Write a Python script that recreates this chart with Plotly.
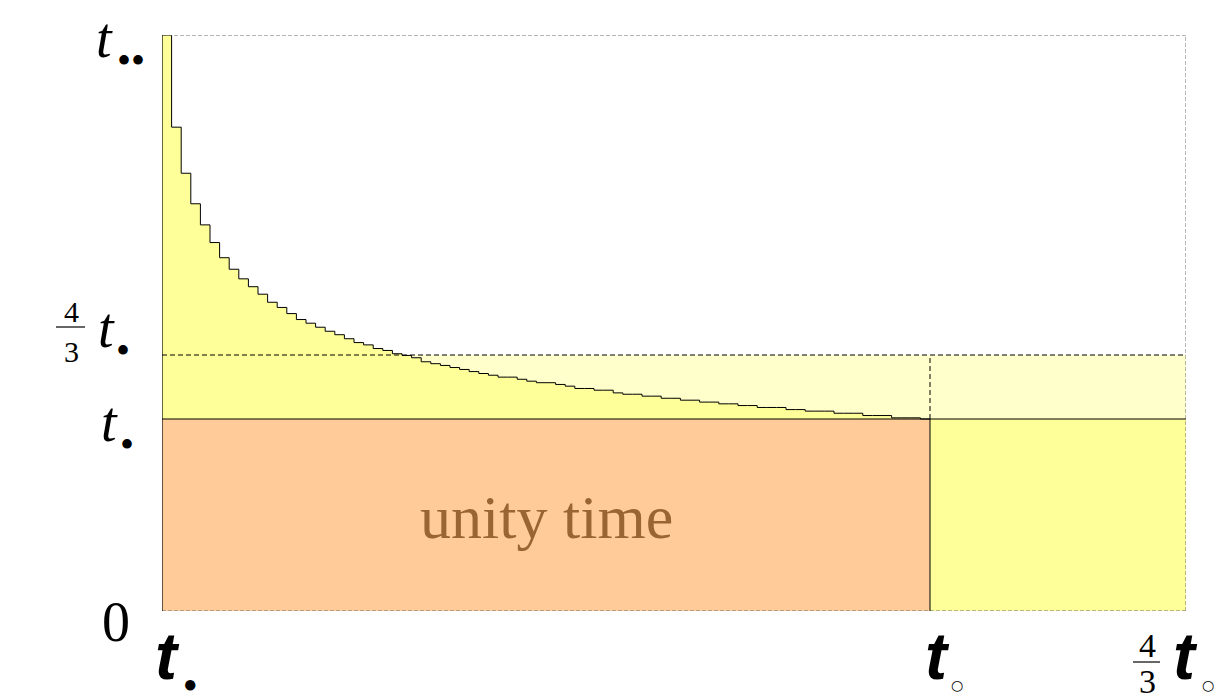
import plotly.graph_objects as go

# ---- values (in units of t_dot for y, t_o for x) ----
T_DOT = 1.0          # t•
T_DD = 3.0           # t••
FOUR_THIRDS = 4.0 / 3.0
T_O = 1.0            # t∘
N_STEPS = 80

# step heights (one value per step, left to right)
step_values = [
    3.000, 2.520, 2.280, 2.121, 2.011, 1.919, 1.840, 1.780, 1.730, 1.689,
    1.650, 1.608, 1.581, 1.549, 1.518, 1.499, 1.478, 1.457, 1.439, 1.418,
    1.398, 1.386, 1.367, 1.357, 1.340, 1.331, 1.319, 1.298, 1.288, 1.279,
    1.268, 1.258, 1.247, 1.237, 1.228, 1.218, 1.218, 1.207, 1.197, 1.189,
    1.189, 1.180, 1.171, 1.159, 1.159, 1.150, 1.150, 1.136, 1.129, 1.129,
    1.119, 1.119, 1.108, 1.108, 1.098, 1.098, 1.088, 1.088, 1.079, 1.079,
    1.070, 1.070, 1.060, 1.060, 1.060, 1.049, 1.049, 1.041, 1.041, 1.041,
    1.030, 1.030, 1.030, 1.018, 1.018, 1.018, 1.006, 1.006, 1.006, 1.000,
]
step_edges = [k * T_O / N_STEPS for k in range(N_STEPS + 1)]

X_MAX = FOUR_THIRDS * T_O
Y_MAX = T_DD

ORANGE = "#FFCC99"
YELLOW = "#FFFF99"
PALE = "#FFFFCC"
TEXT_BROWN = "#996633"
SERIF = "Liberation Serif"
SANS = "Liberation Sans"

fig = go.Figure()

# baseline at t• for the fill
fig.add_trace(go.Scatter(x=[0, T_O], y=[T_DOT, T_DOT], mode="lines",
                         line=dict(width=0, color="rgba(0,0,0,0)"),
                         hoverinfo="skip", showlegend=False))
fig.add_trace(go.Scatter(x=step_edges, y=step_values + [step_values[-1]],
                         mode="lines", line=dict(shape="hv", color="black", width=1),
                         fill="tonexty", fillcolor=YELLOW,
                         hoverinfo="skip", showlegend=False))

shapes = []
# pale band between t• and 4/3 t•
shapes.append(dict(type="rect", xref="x", yref="y", x0=0, x1=X_MAX,
                   y0=T_DOT, y1=FOUR_THIRDS * T_DOT, fillcolor=PALE,
                   line=dict(width=0), layer="below"))
# unity time block
shapes.append(dict(type="rect", xref="x", yref="y", x0=0, x1=T_O,
                   y0=0, y1=T_DOT, fillcolor=ORANGE, line=dict(width=0), layer="below"))
# right yellow block
shapes.append(dict(type="rect", xref="x", yref="y", x0=T_O, x1=X_MAX,
                   y0=0, y1=T_DOT, fillcolor=YELLOW, line=dict(width=0), layer="below"))

# frame: top, right, bottom dashed grey; left solid black
GREY_DASH = dict(color="#6f6f6f", width=1, dash="4px,2px")
shapes.append(dict(type="line", xref="x", yref="y", x0=0, x1=X_MAX, y0=Y_MAX, y1=Y_MAX, line=GREY_DASH))
shapes.append(dict(type="line", xref="x", yref="y", x0=X_MAX, x1=X_MAX, y0=0, y1=Y_MAX, line=GREY_DASH))
shapes.append(dict(type="line", xref="x", yref="y", x0=0, x1=X_MAX, y0=0, y1=0, line=GREY_DASH))
shapes.append(dict(type="line", xref="x", yref="y", x0=0, x1=0, y0=0, y1=Y_MAX,
                   line=dict(color="black", width=1.2)))
# t• line
shapes.append(dict(type="line", xref="x", yref="y", x0=0, x1=X_MAX, y0=T_DOT, y1=T_DOT,
                   line=dict(color="black", width=1)))
# 4/3 t• dashed line
shapes.append(dict(type="line", xref="x", yref="y", x0=0, x1=X_MAX,
                   y0=FOUR_THIRDS * T_DOT, y1=FOUR_THIRDS * T_DOT,
                   line=dict(color="black", width=1, dash="5px,3px")))
# vertical at t∘
shapes.append(dict(type="line", xref="x", yref="y", x0=T_O, x1=T_O, y0=0, y1=T_DOT,
                   line=dict(color="black", width=1)))
shapes.append(dict(type="line", xref="x", yref="y", x0=T_O, x1=T_O,
                   y0=T_DOT, y1=FOUR_THIRDS * T_DOT,
                   line=dict(color="black", width=1, dash="5px,3px")))

# page body has an 8px margin; plot area kept where the reference shows it
L, R, T, B = 154, 37, 27, 97
W, H = 1215, 700
PW, PH = W - L - R, H - T - B


def xp(v):
    return v / X_MAX


def yp(v):
    return v / Y_MAX


annotations = []


def ann(text, xv, yv, dx, dy, size, family=SERIF, color="black"):
    annotations.append(dict(text=text, xref="paper", yref="paper", x=xp(xv), y=yp(yv),
                            xshift=dx, yshift=dy, xanchor="center", yanchor="middle",
                            showarrow=False, font=dict(size=size, family=family, color=color)))


def bar(xv, yv, dx0, dx1, dy):
    shapes.append(dict(type="line", xref="paper", yref="paper",
                       x0=xp(xv) + dx0 / PW, x1=xp(xv) + dx1 / PW,
                       y0=yp(yv) + dy / PH, y1=yp(yv) + dy / PH,
                       line=dict(color="black", width=1.2)))


# y tick labels
ann("<i>t</i>", 0, T_DD, -58, -3, 56)
ann("••", 0, T_DD, -31, -25, 40)
ann("4", 0, FOUR_THIRDS, -91, 44, 30)
ann("3", 0, FOUR_THIRDS, -91, 4, 30)
bar(0, FOUR_THIRDS, -106, -77, 28)
ann("<i>t</i>", 0, FOUR_THIRDS, -56, 27, 56)
ann("•", 0, FOUR_THIRDS, -39, 5, 40)
ann("<i>t</i>", 0, T_DOT, -53, -3, 56)
ann("•", 0, T_DOT, -35, -25, 40)
ann("0", 0, 0, -46, -11, 56)

# x tick labels
ann("<b><i>t</i></b>", 0, 0, 5, -45, 66, SANS)
ann("●", 0, 0, 28, -73, 24)
ann("<b><i>t</i></b>", T_O, 0, 7, -45, 66, SANS)
ann("○", T_O, 0, 27, -74, 14, "DejaVu Sans")
ann("4", X_MAX, 0, -39, -34, 34)
ann("3", X_MAX, 0, -39, -70, 34)
bar(X_MAX, 0, -53, -26, -51)
ann("<b><i>t</i></b>", X_MAX, 0, -0.5, -45, 66, SANS)
ann("○", X_MAX, 0, 21.5, -74, 14, "DejaVu Sans")

# label inside the orange block
ann("unity time", T_O / 2, T_DOT / 2, 0, -2, 62, SERIF, TEXT_BROWN)

fig.update_layout(
    width=W, height=H,
    margin=dict(l=L, r=R, t=T, b=B, pad=0),
    paper_bgcolor="white", plot_bgcolor="white",
    xaxis=dict(range=[0, X_MAX], visible=False, fixedrange=True),
    yaxis=dict(range=[0, Y_MAX], visible=False, fixedrange=True),
    shapes=shapes, annotations=annotations, showlegend=False,
)

fig.write_html("out.html")
